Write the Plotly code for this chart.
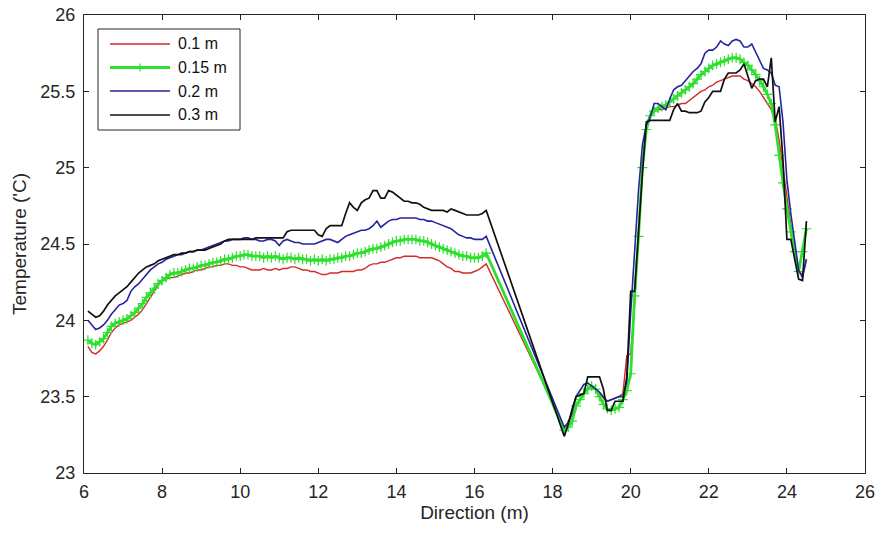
import plotly.graph_objects as go

# Sampling positions (m)
x_left = [6.1, 6.2, 6.3, 6.4, 6.5, 6.6, 6.7, 6.8, 6.9, 7.0,
          7.1, 7.2, 7.3, 7.4, 7.5, 7.6, 7.7, 7.8, 7.9, 8.0,
          8.1, 8.2, 8.3, 8.4, 8.5, 8.6, 8.7, 8.8, 8.9, 9.0,
          9.1, 9.2, 9.3, 9.4, 9.5, 9.6, 9.7, 9.8, 9.9, 10.0,
          10.1, 10.2, 10.3, 10.4, 10.5, 10.6, 10.7, 10.8, 10.9, 11.0,
          11.1, 11.2, 11.3, 11.4, 11.5, 11.6, 11.7, 11.8, 11.9, 12.0,
          12.1, 12.2, 12.3, 12.4, 12.5, 12.6, 12.7, 12.8, 12.9, 13.0,
          13.1, 13.2, 13.3, 13.4, 13.5, 13.6, 13.7, 13.8, 13.9, 14.0,
          14.1, 14.2, 14.3, 14.4, 14.5, 14.6, 14.7, 14.8, 14.9, 15.0,
          15.1, 15.2, 15.3, 15.4, 15.5, 15.6, 15.7, 15.8, 15.9, 16.0,
          16.1, 16.2, 16.3]
x_right = [18.3, 18.4, 18.5, 18.6, 18.7, 18.8, 18.9, 19.0, 19.1, 19.2,
           19.3, 19.4, 19.5, 19.6, 19.7, 19.8, 19.9, 20.0, 20.1, 20.2,
           20.3, 20.4, 20.5, 20.6, 20.7, 20.8, 20.9, 21.0, 21.1, 21.2,
           21.3, 21.4, 21.5, 21.6, 21.7, 21.8, 21.9, 22.0, 22.1, 22.2,
           22.3, 22.4, 22.5, 22.6, 22.7, 22.8, 22.9, 23.0, 23.1, 23.2,
           23.3, 23.4, 23.5, 23.6, 23.7, 23.8, 23.9, 24.0, 24.1, 24.2,
           24.3, 24.4, 24.5]
x_pos = x_left + x_right

# Temperature at 0.1 m height
t_010 = [23.83, 23.79, 23.78, 23.80, 23.83, 23.87, 23.92, 23.95, 23.97, 23.98,
         23.99, 24.00, 24.02, 24.04, 24.07, 24.11, 24.15, 24.19, 24.23, 24.26,
         24.27, 24.28, 24.28, 24.29, 24.30, 24.31, 24.31, 24.32, 24.33, 24.33,
         24.34, 24.35, 24.35, 24.36, 24.36, 24.37, 24.37, 24.36, 24.36, 24.35,
         24.35, 24.34, 24.33, 24.33, 24.33, 24.34, 24.33, 24.33, 24.34, 24.33,
         24.34, 24.34, 24.35, 24.35, 24.34, 24.33, 24.33, 24.32, 24.32, 24.31,
         24.30, 24.30, 24.31, 24.31, 24.31, 24.32, 24.32, 24.32, 24.32, 24.33,
         24.33, 24.34, 24.36, 24.37, 24.37, 24.38, 24.38, 24.39, 24.40, 24.41,
         24.41, 24.42, 24.42, 24.42, 24.42, 24.41, 24.41, 24.41, 24.41, 24.40,
         24.39, 24.37, 24.35, 24.34, 24.32, 24.32, 24.31, 24.31, 24.31, 24.32,
         24.33, 24.35, 24.37,
         23.30, 23.33, 23.38, 23.44, 23.48, 23.52, 23.55, 23.56, 23.55, 23.52,
         23.49, 23.47, 23.48, 23.49, 23.50, 23.52, 23.77, 23.78, 24.10, 24.60,
         25.00, 25.28, 25.35, 25.39, 25.38, 25.38, 25.39, 25.40, 25.40, 25.41,
         25.42, 25.42, 25.44, 25.46, 25.48, 25.50, 25.51, 25.53, 25.54, 25.56,
         25.57, 25.58, 25.59, 25.60, 25.60, 25.60, 25.58, 25.57, 25.55, 25.53,
         25.50, 25.46, 25.42, 25.38, 25.32, 25.18, 25.00, 24.80, 24.62, 24.45,
         24.32, 24.30, 24.40]

# Temperature at 0.15 m height
t_015 = [23.87, 23.85, 23.84, 23.86, 23.88, 23.92, 23.96, 23.98, 23.99, 24.00,
         24.01, 24.03, 24.05, 24.08, 24.11, 24.15, 24.18, 24.21, 24.24, 24.26,
         24.28, 24.30, 24.31, 24.31, 24.32, 24.33, 24.34, 24.34, 24.35, 24.36,
         24.36, 24.37, 24.38, 24.38, 24.39, 24.40, 24.40, 24.41, 24.42, 24.42,
         24.43, 24.43, 24.42, 24.42, 24.42, 24.41, 24.42, 24.41, 24.42, 24.41,
         24.40, 24.41, 24.41, 24.40, 24.41, 24.40, 24.40, 24.39, 24.40, 24.39,
         24.40, 24.39, 24.40, 24.40, 24.41, 24.41, 24.42, 24.42, 24.43, 24.44,
         24.44, 24.45, 24.46, 24.47, 24.47, 24.48, 24.49, 24.50, 24.51, 24.52,
         24.52, 24.53, 24.53, 24.53, 24.53, 24.52, 24.52, 24.51, 24.50, 24.49,
         24.48, 24.47, 24.46, 24.45, 24.44, 24.43, 24.42, 24.42, 24.41, 24.41,
         24.41, 24.42, 24.44,
         23.28, 23.30, 23.34, 23.44, 23.48, 23.52, 23.55, 23.57, 23.55, 23.50,
         23.45, 23.42, 23.41, 23.42, 23.43, 23.48, 23.54, 23.65, 24.16, 24.55,
         25.00, 25.25, 25.34, 25.37, 25.39, 25.40, 25.41, 25.43, 25.45, 25.47,
         25.49, 25.51, 25.53, 25.55, 25.58, 25.61, 25.63, 25.65, 25.67, 25.68,
         25.69, 25.70, 25.71, 25.72, 25.72, 25.71, 25.69, 25.67, 25.64, 25.61,
         25.57, 25.53, 25.48, 25.42, 25.28, 25.08, 24.90, 24.73, 24.58, 24.45,
         24.32, 24.45, 24.60]

# Temperature at 0.2 m height
t_020 = [24.00, 23.97, 23.94, 23.95, 23.97, 24.00, 24.04, 24.07, 24.10, 24.11,
         24.13, 24.19, 24.22, 24.24, 24.27, 24.30, 24.33, 24.35, 24.37, 24.38,
         24.40, 24.41, 24.42, 24.43, 24.43, 24.44, 24.45, 24.45, 24.46, 24.46,
         24.47, 24.48, 24.49, 24.50, 24.51, 24.52, 24.52, 24.53, 24.53, 24.53,
         24.54, 24.54, 24.53, 24.53, 24.52, 24.52, 24.53, 24.53, 24.52, 24.49,
         24.52, 24.53, 24.52, 24.51, 24.51, 24.50, 24.50, 24.50, 24.50, 24.51,
         24.52, 24.53, 24.53, 24.52, 24.51, 24.53, 24.55, 24.56, 24.57, 24.58,
         24.59, 24.59, 24.60, 24.62, 24.65, 24.61, 24.63, 24.65, 24.66, 24.66,
         24.67, 24.67, 24.67, 24.67, 24.67, 24.66, 24.66, 24.65, 24.65, 24.64,
         24.63, 24.62, 24.61, 24.60, 24.58, 24.56, 24.55, 24.54, 24.54, 24.53,
         24.53, 24.53, 24.55,
         23.30, 23.33, 23.40, 23.50, 23.54, 23.58, 23.59, 23.57, 23.55, 23.53,
         23.50, 23.47, 23.48, 23.49, 23.50, 23.50, 23.60, 24.05, 24.45, 24.85,
         25.15, 25.28, 25.33, 25.42, 25.42, 25.40, 25.38, 25.45, 25.51, 25.53,
         25.54, 25.57, 25.60, 25.63, 25.65, 25.68, 25.75, 25.77, 25.77, 25.79,
         25.83, 25.81, 25.80, 25.83, 25.84, 25.83, 25.79, 25.79, 25.81, 25.76,
         25.70, 25.65, 25.64, 25.62, 25.54, 25.53, 25.30, 24.92, 24.70, 24.53,
         24.33, 24.28, 24.40]

# Temperature at 0.3 m height
t_030 = [24.06, 24.04, 24.02, 24.03, 24.06, 24.10, 24.13, 24.16, 24.18, 24.20,
         24.22, 24.25, 24.28, 24.31, 24.33, 24.35, 24.36, 24.37, 24.39, 24.40,
         24.41, 24.42, 24.43, 24.43, 24.44, 24.44, 24.45, 24.45, 24.46, 24.46,
         24.46, 24.47, 24.48, 24.49, 24.50, 24.52, 24.53, 24.53, 24.53, 24.53,
         24.53, 24.53, 24.53, 24.54, 24.54, 24.54, 24.54, 24.54, 24.54, 24.54,
         24.54, 24.58, 24.59, 24.59, 24.59, 24.59, 24.59, 24.59, 24.59, 24.56,
         24.55, 24.60, 24.62, 24.62, 24.62, 24.62, 24.70, 24.77, 24.74, 24.72,
         24.77, 24.79, 24.80, 24.85, 24.85, 24.80, 24.80, 24.85, 24.84, 24.82,
         24.80, 24.78, 24.78, 24.77, 24.77, 24.76, 24.74, 24.73, 24.72, 24.72,
         24.72, 24.72, 24.71, 24.73, 24.72, 24.71, 24.70, 24.69, 24.69, 24.69,
         24.69, 24.70, 24.72,
         23.24, 23.32, 23.42, 23.50, 23.51, 23.52, 23.63, 23.63, 23.63, 23.63,
         23.55, 23.41, 23.41, 23.47, 23.47, 23.47, 23.63, 24.19, 24.19, 24.60,
         24.96, 25.30, 25.31, 25.31, 25.31, 25.31, 25.31, 25.31, 25.38, 25.42,
         25.37, 25.37, 25.36, 25.36, 25.36, 25.37, 25.43, 25.46, 25.50, 25.50,
         25.50, 25.58, 25.62, 25.62, 25.62, 25.64, 25.68, 25.60, 25.52, 25.57,
         25.58, 25.58, 25.53, 25.72, 25.30, 25.40, 25.05, 24.53, 24.53, 24.40,
         24.27, 24.26, 24.65]

series_names = ["0.1 m", "0.15 m", "0.2 m", "0.3 m"]
series_values = [t_010, t_015, t_020, t_030]
x_ticks = [6, 8, 10, 12, 14, 16, 18, 20, 22, 24, 26]
y_ticks = [23, 23.5, 24, 24.5, 25, 25.5, 26]
x_title = "Direction (m)"
y_title = "Temperature ('C)"

# ---- styles ----
colors = ["#d42a2a", "#2ee02e", "#25259c", "#111111"]
widths = [1.4, 2.8, 1.6, 1.7]
axis_col = "#262626"
font_family = "Liberation Sans, Arial, sans-serif"

W, H = 880, 535
ML, MR, MT, MB = 84, 15, 15, 62
PW, PH = W - ML - MR, H - MT - MB


def px_x(p):
    return (p - ML) / PW


def px_y(p):
    return (H - MB - p) / PH


fig = go.Figure()
for i, (name, vals) in enumerate(zip(series_names, series_values)):
    if i == 1:
        fig.add_trace(go.Scatter(
            x=x_pos, y=vals, name=name, mode="lines+markers",
            line=dict(color=colors[i], width=widths[i]),
            marker=dict(symbol="cross-thin", size=7,
                        line=dict(color=colors[i], width=1.2))))
    else:
        fig.add_trace(go.Scatter(
            x=x_pos, y=vals, name=name, mode="lines",
            line=dict(color=colors[i], width=widths[i])))

axis_common = dict(showline=True, linecolor=axis_col, linewidth=1, mirror="ticks",
                   ticks="inside", ticklen=5, tickcolor=axis_col, showgrid=False,
                   zeroline=False, automargin=False, ticklabeloverflow="allow",
                   tickfont=dict(size=18, color=axis_col, family=font_family))

# ---- legend box drawn in paper coordinates ----
leg_left, leg_right, leg_top, leg_bottom = 98, 240, 29, 130
row_y = [44, 67.5, 91, 115]
samp_x0, samp_x1, text_x = 110, 170, 176
shapes = [dict(type="rect", xref="paper", yref="paper",
               x0=px_x(leg_left), x1=px_x(leg_right),
               y0=px_y(leg_bottom), y1=px_y(leg_top),
               line=dict(color=axis_col, width=1), fillcolor="white", layer="above")]
annotations = []
for i, name in enumerate(series_names):
    yy = px_y(row_y[i])
    shapes.append(dict(type="line", xref="paper", yref="paper",
                       x0=px_x(samp_x0), x1=px_x(samp_x1), y0=yy, y1=yy,
                       line=dict(color=colors[i], width=widths[i]), layer="above"))
    if i == 1:
        xm = px_x((samp_x0 + samp_x1) / 2)
        shapes.append(dict(type="line", xref="paper", yref="paper",
                           x0=xm, x1=xm, y0=px_y(row_y[i] + 4), y1=px_y(row_y[i] - 4),
                           line=dict(color=colors[i], width=1.2), layer="above"))
    annotations.append(dict(x=px_x(text_x), y=yy, xref="paper", yref="paper",
                            text=name, showarrow=False, xanchor="left", yanchor="middle",
                            font=dict(size=16, color="#111111", family=font_family)))

fig.update_layout(
    width=W, height=H,
    margin=dict(l=ML, r=MR, t=MT, b=MB),
    paper_bgcolor="white", plot_bgcolor="white",
    font=dict(family=font_family, color=axis_col),
    showlegend=False,
    xaxis=dict(range=[6, 26], tickvals=x_ticks, ticktext=[str(v) for v in x_ticks],
               ticklabelstandoff=2,
               title=dict(text=x_title, font=dict(size=19, color=axis_col), standoff=2),
               **axis_common),
    yaxis=dict(range=[23, 26], tickvals=y_ticks, ticktext=[f"{v:g}" for v in y_ticks],
               ticklabelstandoff=4,
               title=dict(text=y_title, font=dict(size=19, color=axis_col), standoff=8),
               **axis_common),
    shapes=shapes,
    annotations=annotations,
)

# remove the browser's default page margin so the figure sits at the window origin
fig.write_html("out.html",
               config={"displayModeBar": False},
               post_script="document.body.style.margin='0px';document.body.style.padding='0px';")
